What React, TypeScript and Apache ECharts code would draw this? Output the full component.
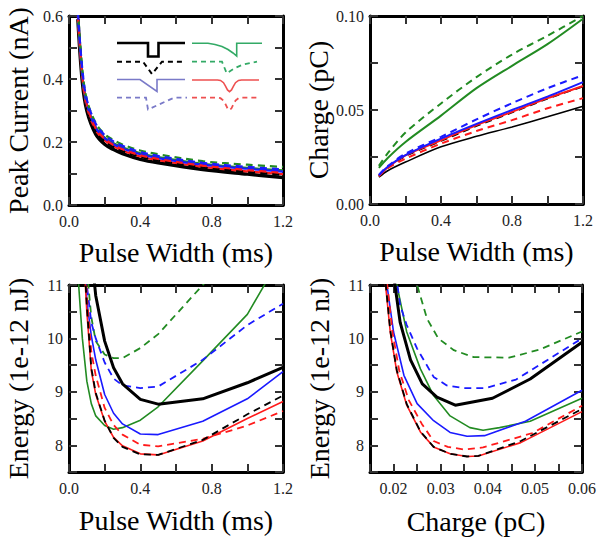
import React, { useEffect, useRef } from 'react';
import * as echarts from 'echarts';

// ---------- Peak current vs pulse width (top-left) ----------
const widthsCurrent = [0.05, 0.075, 0.1, 0.15, 0.2, 0.25, 0.3, 0.4, 0.5, 0.75, 1.0, 1.2];
const currentBlackSolid = [0.59, 0.39, 0.30, 0.225, 0.193, 0.176, 0.163, 0.145, 0.134, 0.113, 0.098, 0.087];
const currentBlackDashed = [0.59, 0.40, 0.31, 0.235, 0.202, 0.184, 0.171, 0.153, 0.141, 0.119, 0.105, 0.095];
const currentRedSolid = [0.59, 0.40, 0.31, 0.237, 0.205, 0.186, 0.173, 0.154, 0.142, 0.121, 0.107, 0.098];
const currentRedDashed = [0.60, 0.41, 0.32, 0.243, 0.21, 0.19, 0.177, 0.158, 0.146, 0.125, 0.111, 0.102];
const currentBlueSolid = [0.60, 0.41, 0.32, 0.245, 0.212, 0.193, 0.18, 0.161, 0.149, 0.128, 0.115, 0.106];
const currentBlueDashed = [0.61, 0.43, 0.335, 0.258, 0.222, 0.202, 0.188, 0.168, 0.156, 0.134, 0.121, 0.113];
const currentGreenSolid = [0.60, 0.41, 0.32, 0.247, 0.214, 0.196, 0.183, 0.164, 0.152, 0.131, 0.118, 0.11];
const currentGreenDashed = [0.62, 0.43, 0.335, 0.26, 0.225, 0.206, 0.192, 0.173, 0.161, 0.139, 0.128, 0.121];

// ---------- Charge vs pulse width (top-right) ----------
const widthsCharge = [0.05, 0.1, 0.2, 0.4, 0.6, 0.8, 1.0, 1.2];
const chargeBlackSolid = [0.0143, 0.0177, 0.0223, 0.0304, 0.036, 0.041, 0.0464, 0.052];
const chargeBlackDashed = [0.0148, 0.0193, 0.0255, 0.0335, 0.0415, 0.0487, 0.056, 0.0625];
const chargeRedSolid = [0.015, 0.0195, 0.0259, 0.0339, 0.042, 0.049, 0.0563, 0.0628];
const chargeRedDashed = [0.0148, 0.019, 0.0241, 0.0321, 0.0388, 0.0446, 0.0509, 0.0563];
const chargeBlueSolid = [0.0152, 0.0198, 0.026, 0.0348, 0.0426, 0.05, 0.0571, 0.0648];
const chargeBlueDashed = [0.0155, 0.0202, 0.0268, 0.0357, 0.045, 0.0536, 0.0616, 0.0685];
const chargeGreenSolid = [0.0192, 0.0245, 0.033, 0.047, 0.0616, 0.0735, 0.085, 0.0985];
const chargeGreenDashed = [0.0203, 0.027, 0.038, 0.0535, 0.0675, 0.0795, 0.0895, 0.1];

// ---------- Energy vs pulse width (bottom-left) ----------
const widthsEnergy = [0.05, 0.075, 0.1, 0.125, 0.15, 0.2, 0.25, 0.3, 0.4, 0.5, 0.75, 1.0, 1.2];
const energyBlackSolid = [20, 15.5, 12.8, 11.6, 10.8, 9.95, 9.45, 9.15, 8.86, 8.77, 8.87, 9.17, 9.46];
const energyBlackDashed = [17.5, 12.2, 10.6, 9.45, 8.98, 8.46, 8.14, 7.97, 7.83, 7.82, 8.1, 8.58, 8.93];
const energyRedSolid = [17, 12.0, 10.5, 9.4, 8.95, 8.45, 8.15, 7.99, 7.84, 7.82, 8.08, 8.5, 8.82];
const energyRedDashed = [17.5, 12.5, 10.8, 9.75, 9.3, 8.7, 8.38, 8.2, 8.01, 7.98, 8.12, 8.37, 8.64];
const energyBlueSolid = [16, 12.5, 10.7, 10.05, 9.6, 8.95, 8.6, 8.4, 8.21, 8.2, 8.45, 8.87, 9.38];
const energyBlueDashed = [17, 12.3, 11.0, 10.3, 10.0, 9.55, 9.25, 9.12, 9.07, 9.1, 9.6, 10.25, 10.65];
const energyGreenSolid = [11.2, 10.0, 9.2, 8.78, 8.55, 8.37, 8.3, 8.33, 8.47, 8.72, 9.58, 10.45, 11.6];
const energyGreenDashed = [16, 13, 11.3, 10.4, 9.95, 9.7, 9.63, 9.63, 9.82, 10.08, 11.0, 11.9, 12.6];

// ---------- Energy vs charge (bottom-right) ----------
const qBlackSolid = [0.019, 0.0203, 0.0214, 0.0236, 0.0261, 0.0292, 0.0331, 0.041, 0.049, 0.06];
const eBlackSolid = [11.9, 11.0, 10.3, 9.6, 9.15, 8.9, 8.75, 8.88, 9.24, 9.93];
const qBlackDashed = [0.0175, 0.0183, 0.0193, 0.0207, 0.0228, 0.0257, 0.0285, 0.032, 0.0356, 0.038, 0.047, 0.06];
const eBlackDashed = [11.7, 11.05, 10.15, 9.4, 8.77, 8.26, 7.97, 7.84, 7.79, 7.8, 8.08, 8.68];
const qRedSolid = [0.0175, 0.0183, 0.0193, 0.0207, 0.0228, 0.0257, 0.0285, 0.032, 0.0356, 0.038, 0.047, 0.06];
const eRedSolid = [11.6, 11.0, 10.12, 9.37, 8.75, 8.25, 7.97, 7.84, 7.79, 7.8, 8.05, 8.63];
const qRedDashed = [0.018, 0.0188, 0.0198, 0.0212, 0.0232, 0.026, 0.0285, 0.0315, 0.035, 0.039, 0.0495, 0.06];
const eRedDashed = [11.5, 10.9, 10.1, 9.4, 8.85, 8.4, 8.08, 7.97, 7.92, 7.96, 8.23, 8.74];
const qBlueSolid = [0.018, 0.0186, 0.02, 0.0222, 0.025, 0.0285, 0.032, 0.0356, 0.0393, 0.048, 0.06];
const eBlueSolid = [11.5, 11.0, 10.12, 9.31, 8.78, 8.46, 8.24, 8.17, 8.18, 8.45, 9.03];
const qBlueDashed = [0.0205, 0.0214, 0.0228, 0.025, 0.0285, 0.0313, 0.0349, 0.0395, 0.046, 0.06];
const eBlueDashed = [11.2, 10.62, 10.25, 9.81, 9.28, 9.12, 9.07, 9.07, 9.23, 10.0];
const qGreenSolid = [0.0195, 0.0207, 0.0228, 0.0257, 0.0285, 0.032, 0.0362, 0.039, 0.0425, 0.049, 0.06];
const eGreenSolid = [11.7, 11.0, 10.12, 9.43, 8.93, 8.55, 8.33, 8.28, 8.33, 8.45, 8.88];
const qGreenDashed = [0.0245, 0.025, 0.0271, 0.0295, 0.0328, 0.037, 0.0445, 0.051, 0.06];
const eGreenDashed = [11.2, 11.0, 10.37, 10.0, 9.78, 9.65, 9.64, 9.79, 10.13];

// ---------- Axis names ----------
const nameCurrent = 'Peak Current (nA)';
const nameCharge = 'Charge (pC)';
const nameWidth = 'Pulse Width (ms)';
const nameEnergy = 'Energy (1e-12 nJ)';

const BLACK = '#000000';
const RED = '#ff1a1a';
const BLUE = '#1a1aff';
const GREEN = '#228b22';
const FONT = 'Liberation Serif';

const zip = (xs: number[], ys: number[]) => xs.map((x, i) => [x, ys[i]]);

const fmtEvery = (step: number, digits: number) => (v: number) =>
  Math.abs(v / step - Math.round(v / step)) < 1e-6 ? v.toFixed(digits) : '';

function axisPair(
  kind: 'x' | 'y',
  gridIndex: number,
  min: number,
  max: number,
  interval: number,
  fmt: (v: number) => string,
  name: string,
  nameGap: number
) {
  const common = {
    type: 'value',
    gridIndex,
    min,
    max,
    interval,
    splitLine: { show: false },
    axisLine: { show: true, onZero: false, lineStyle: { color: '#000', width: 3 } },
    axisTick: { show: true, inside: true, length: 8, lineStyle: { color: '#333', width: 2 } },
  };
  const main = {
    ...common,
    position: kind === 'x' ? 'bottom' : 'left',
    name,
    nameLocation: 'middle',
    nameGap,
    nameRotate: kind === 'y' ? 90 : 0,
    nameTextStyle: { fontFamily: FONT, fontSize: 28, color: '#000' },
    axisLabel: {
      show: true,
      formatter: fmt,
      fontFamily: FONT,
      fontSize: 16,
      color: '#222',
      margin: kind === 'x' ? 8 : 6,
      showMinLabel: true,
      showMaxLabel: true,
    },
  };
  const mirror = {
    ...common,
    position: kind === 'x' ? 'top' : 'right',
    axisLabel: { show: false },
  };
  return [main, mirror];
}

type Spec = { data: number[][]; color: string; dashed: boolean; width: number };

function makeSeries(specs: Spec[], axisIdx: number, smooth: number | boolean) {
  return specs.map((s) => ({
    type: 'line',
    xAxisIndex: axisIdx,
    yAxisIndex: axisIdx,
    data: s.data,
    showSymbol: false,
    symbol: 'none',
    smooth,
    clip: true,
    lineStyle: { color: s.color, width: s.width, type: s.dashed ? [7, 5] : 'solid' },
    silent: true,
  }));
}

const tlSpecs: Spec[] = [
  { data: zip(widthsCurrent, currentBlackSolid), color: BLACK, dashed: false, width: 3.5 },
  { data: zip(widthsCurrent, currentRedSolid), color: RED, dashed: false, width: 2.2 },
  { data: zip(widthsCurrent, currentBlackDashed), color: BLACK, dashed: true, width: 2.2 },
  { data: zip(widthsCurrent, currentGreenSolid), color: GREEN, dashed: false, width: 2.2 },
  { data: zip(widthsCurrent, currentBlueSolid), color: BLUE, dashed: false, width: 2.2 },
  { data: zip(widthsCurrent, currentRedDashed), color: RED, dashed: true, width: 2.2 },
  { data: zip(widthsCurrent, currentGreenDashed), color: GREEN, dashed: true, width: 2.2 },
  { data: zip(widthsCurrent, currentBlueDashed), color: BLUE, dashed: true, width: 2.2 },
];

const trSpecs: Spec[] = [
  { data: zip(widthsCharge, chargeBlackSolid), color: BLACK, dashed: false, width: 1.6 },
  { data: zip(widthsCharge, chargeBlackDashed), color: BLACK, dashed: true, width: 1.8 },
  { data: zip(widthsCharge, chargeRedSolid), color: RED, dashed: false, width: 2 },
  { data: zip(widthsCharge, chargeRedDashed), color: RED, dashed: true, width: 2 },
  { data: zip(widthsCharge, chargeBlueSolid), color: BLUE, dashed: false, width: 2 },
  { data: zip(widthsCharge, chargeBlueDashed), color: BLUE, dashed: true, width: 2 },
  { data: zip(widthsCharge, chargeGreenSolid), color: GREEN, dashed: false, width: 2 },
  { data: zip(widthsCharge, chargeGreenDashed), color: GREEN, dashed: true, width: 2 },
];

const blSpecs: Spec[] = [
  { data: zip(widthsEnergy, energyGreenSolid), color: GREEN, dashed: false, width: 1.6 },
  { data: zip(widthsEnergy, energyGreenDashed), color: GREEN, dashed: true, width: 1.8 },
  { data: zip(widthsEnergy, energyBlueSolid), color: BLUE, dashed: false, width: 1.6 },
  { data: zip(widthsEnergy, energyBlueDashed), color: BLUE, dashed: true, width: 1.8 },
  { data: zip(widthsEnergy, energyRedSolid), color: RED, dashed: false, width: 1.6 },
  { data: zip(widthsEnergy, energyRedDashed), color: RED, dashed: true, width: 1.8 },
  { data: zip(widthsEnergy, energyBlackDashed), color: BLACK, dashed: true, width: 1.8 },
  { data: zip(widthsEnergy, energyBlackSolid), color: BLACK, dashed: false, width: 3 },
];

const brSpecs: Spec[] = [
  { data: zip(qGreenSolid, eGreenSolid), color: GREEN, dashed: false, width: 1.6 },
  { data: zip(qGreenDashed, eGreenDashed), color: GREEN, dashed: true, width: 1.8 },
  { data: zip(qBlueSolid, eBlueSolid), color: BLUE, dashed: false, width: 1.6 },
  { data: zip(qBlueDashed, eBlueDashed), color: BLUE, dashed: true, width: 1.8 },
  { data: zip(qRedSolid, eRedSolid), color: RED, dashed: false, width: 1.6 },
  { data: zip(qRedDashed, eRedDashed), color: RED, dashed: true, width: 1.8 },
  { data: zip(qBlackDashed, eBlackDashed), color: BLACK, dashed: true, width: 1.8 },
  { data: zip(qBlackSolid, eBlackSolid), color: BLACK, dashed: false, width: 3 },
];

// legend inset (pulse shapes) drawn as decorations
const LG_GREEN = '#33aa66';
const LG_BLUE = '#7a7ac8';
const LG_RED = '#ee5050';
const pl = (points: number[][], stroke: string, lineWidth: number, dashed: boolean) => ({
  type: 'polyline',
  silent: true,
  z: 100,
  shape: { points },
  style: { stroke, lineWidth, fill: null, lineDash: dashed ? [5, 4] : null },
});

const legendGraphics = [
  pl([[117, 43], [148, 43], [148, 56.5], [158.5, 56.5], [158.5, 43], [185, 43]], '#000', 2.6, false),
  pl([[117, 61.7], [143, 61.7], [152, 74], [162, 61.7], [185, 61.7]], '#000', 2, true),
  pl([[117, 79.5], [140, 79.5], [157, 91.5], [157, 79.5], [185, 79.5]], LG_BLUE, 1.6, false),
  pl([[117, 97.7], [146, 97.7], [148, 109.5], [174, 97.7], [187, 97.7]], LG_BLUE, 1.8, true),
  pl([[192, 43.3], [208, 43.3], [215, 44.5], [222, 46.5], [228, 49.5], [233, 53], [236.7, 56], [236.7, 43.3], [262, 43.3]], LG_GREEN, 1.6, false),
  pl([[192, 61.7], [222, 61.7], [226.7, 73.3], [234, 68.5], [243, 64.5], [257, 61.7]], LG_GREEN, 1.8, true),
  pl([[192, 80], [217.5, 80], [220.5, 80.4], [223.5, 82.7], [225.5, 86.1], [227.5, 89.9], [229.5, 91.7], [231.5, 89.9], [233.5, 86.1], [235.5, 82.7], [238.5, 80.4], [241.5, 80], [259, 80]], LG_RED, 1.6, false),
  pl([[192, 97.7], [217.5, 97.7], [220.5, 98.2], [223.5, 100.6], [225.5, 104.2], [227.5, 108.3], [229.5, 110.2], [231.5, 108.3], [233.5, 104.2], [235.5, 100.6], [238.5, 98.2], [241.5, 97.7], [259, 97.7]], LG_RED, 1.8, true),
];

const option = {
  animation: false,
  backgroundColor: '#ffffff',
  grid: [
    { left: 69, top: 16, width: 214, height: 189 },
    { left: 370, top: 16, width: 213, height: 188 },
    { left: 69, top: 285, width: 214, height: 187 },
    { left: 370, top: 285, width: 212, height: 187 },
  ],
  xAxis: [
    ...axisPair('x', 0, 0, 1.2, 0.2, fmtEvery(0.4, 1), nameWidth, 33),
    ...axisPair('x', 1, 0, 1.2, 0.2, fmtEvery(0.4, 1), nameWidth, 33),
    ...axisPair('x', 2, 0, 1.2, 0.2, fmtEvery(0.4, 1), nameWidth, 34),
    ...axisPair('x', 3, 0.015, 0.06, 0.005, fmtEvery(0.01, 2), nameCharge, 35),
  ],
  yAxis: [
    ...axisPair('y', 0, 0, 0.6, 0.1, fmtEvery(0.2, 1), nameCurrent, 37),
    ...axisPair('y', 1, 0, 0.1, 0.025, fmtEvery(0.05, 2), nameCharge, 37),
    ...axisPair('y', 2, 7.5, 11, 0.5, fmtEvery(1, 0), nameEnergy, 37),
    ...axisPair('y', 3, 7.5, 11, 0.5, fmtEvery(1, 0), nameEnergy, 37),
  ],
  series: [
    ...makeSeries(tlSpecs, 0, 0.35),
    ...makeSeries(trSpecs, 2, 0.3),
    ...makeSeries(blSpecs, 4, false),
    ...makeSeries(brSpecs, 6, false),
  ],
  graphic: legendGraphics,
};

export default function App() {
  const ref = useRef<HTMLDivElement>(null);
  useEffect(() => {
    if (!ref.current) return;
    const chart = echarts.init(ref.current, null, { renderer: 'svg' });
    chart.setOption(option as any);
    return () => chart.dispose();
  }, []);
  return (
    <div
      ref={ref}
      style={{ position: 'fixed', left: 0, top: 0, width: 600, height: 542, background: '#fff' }}
    />
  );
}
